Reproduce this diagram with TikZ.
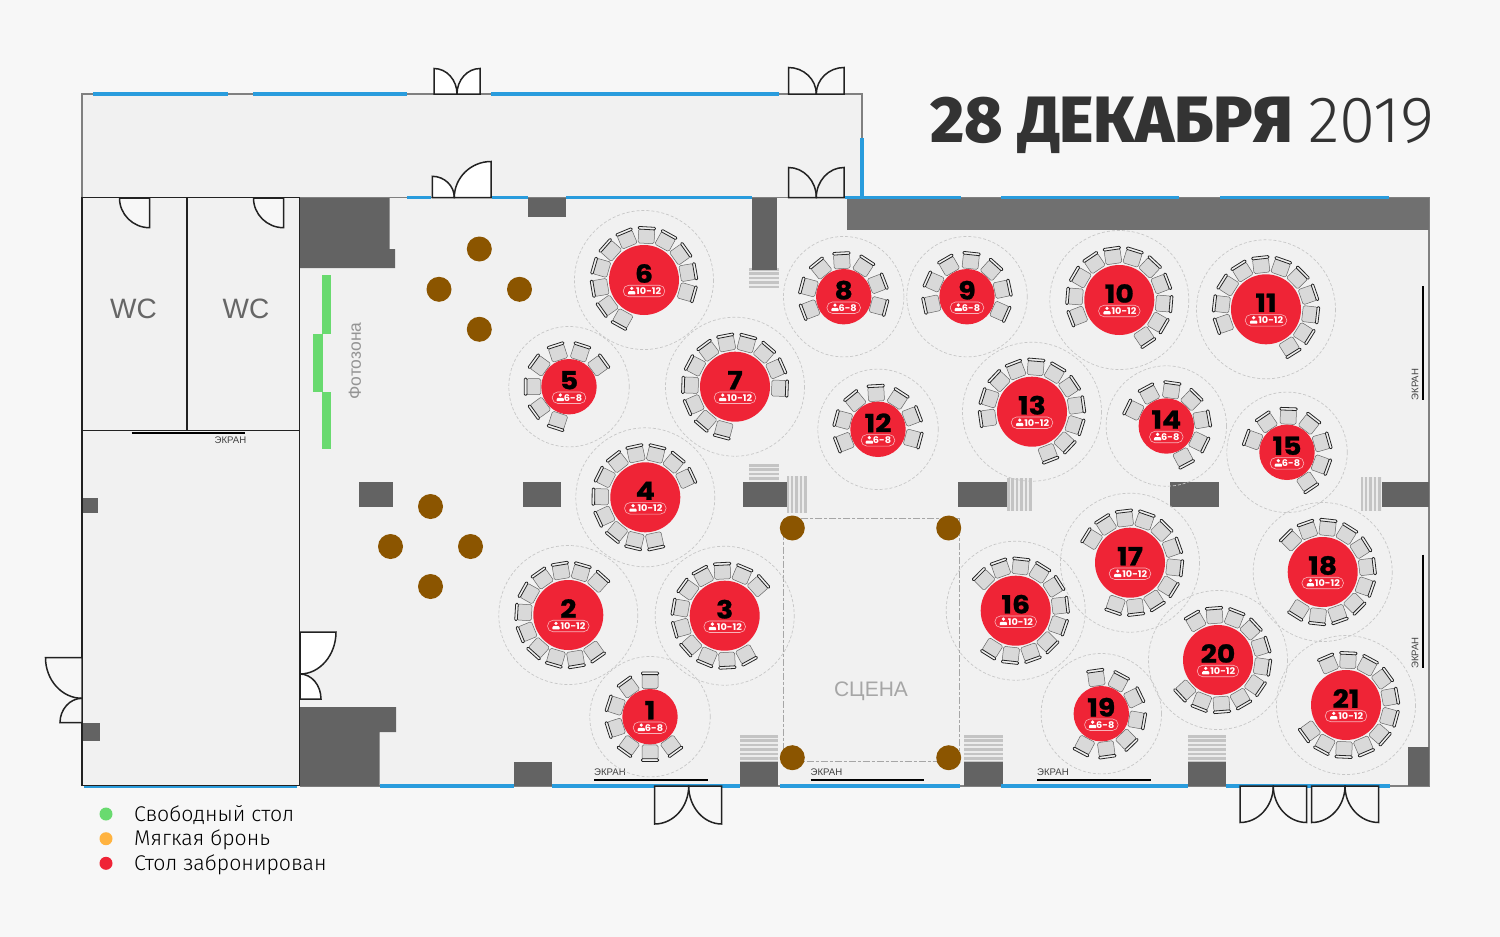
\documentclass[tikz,border=0pt]{standalone}
\usepackage{fontspec}
\setmainfont{Liberation Sans}
\newfontfamily\arialf{Liberation Sans}
\newfontfamily\numf[FakeBold=1,FakeStretch=1.13]{Poppins Bold}
\newfontfamily\badgef[FakeStretch=1.06]{Poppins Bold}
\newfontfamily\titleB{Fira Sans ExtraBold}
\newfontfamily\titleL{Fira Sans Light}
\newfontfamily\legf{Fira Sans Light}
\definecolor{pagebg}{HTML}{F7F7F7}
\definecolor{floorc}{HTML}{F1F1F1}
\definecolor{pier}{HTML}{636363}
\definecolor{band}{HTML}{707070}
\definecolor{glass}{HTML}{299CDD}
\definecolor{wallg}{HTML}{808080}
\definecolor{wallk}{HTML}{222222}
\definecolor{tablered}{HTML}{EF2436}
\definecolor{freeg}{HTML}{69DA6F}
\definecolor{softo}{HTML}{FFB340}
\definecolor{brownc}{HTML}{8B5500}
\definecolor{stairL}{HTML}{ECECEC}
\definecolor{stairD}{HTML}{C4C4C4}
\tikzset{
  x=1pt,y=-1pt,
  pierbox/.style={fill=pier,draw=none},
  win/.style={draw=glass,line width=3.6pt},
  wallgray/.style={draw=wallg,line width=1.4pt},
  wallblack/.style={draw=wallk,line width=1.7pt,line cap=rect},
  leafst/.style={draw=wallk,line width=1.5pt,line join=miter},
  column/.style={fill=brownc,draw=none},
  zone/.style={fill=freeg,draw=none},
  scr/.style={draw=black,line width=2pt},
  scrtext/.style={font=\fontsize{9.6}{10}\selectfont\arialf,text=black!75,inner sep=0pt},
  guest/.style={draw=black!22,line width=.7pt,dash pattern=on 3pt off 2pt},
  seat/.style={fill=black!15,draw=black!60,line width=.5pt,rounded corners=1.5pt},
  backr/.style={fill=black!6,draw=black!85,line width=.8pt,rounded corners=1pt},
  numt/.style={font=\fontsize{25}{25}\selectfont\numf,text=black,inner sep=0pt},
  badget/.style={font=\fontsize{9.2}{9}\selectfont\badgef,text=white,inner sep=0pt},
  pill/.style={draw=white!65!tablered,line width=.6pt,rounded corners=5.5pt,inner sep=0pt,minimum height=11.5pt},
  leg/.style={font=\fontsize{21.3}{22}\selectfont\legf,text=black,anchor=west,inner sep=0pt},
}
% door leaf: hinge, outer tip, meeting point, fill
\newcommand\leaf[7]{%
  \pgfmathsetmacro\ax{#3+.55*(#5-#1)}\pgfmathsetmacro\ay{#4+.55*(#6-#2)}%
  \pgfmathsetmacro\bx{#5+.55*(#3-#1)}\pgfmathsetmacro\by{#6+.55*(#4-#2)}%
  \filldraw[leafst,fill=#7] (#1,#2) -- (#3,#4) .. controls (\ax,\ay) and (\bx,\by) .. (#5,#6) -- cycle;}
\newcommand\hstairs[4]{%
  \fill[stairL] (#1,#3) rectangle (#2,#4);
  \pgfmathtruncatemacro\nn{(#4-#3)/4.4}%
  \foreach \k in {0,...,\nn}{\pgfmathsetmacro\yy{#3+1.3+\k*4.4}\fill[stairD] (#1,\yy-1.25) rectangle (#2,\yy+1.25);}}
\newcommand\vstairs[4]{%
  \fill[stairL] (#1,#3) rectangle (#2,#4);
  \pgfmathtruncatemacro\nn{(#2-#1)/4.4}%
  \foreach \k in {0,...,\nn}{\pgfmathsetmacro\xx{#1+1.3+\k*4.4}\fill[stairD] (\xx-1.25,#3) rectangle (\xx+1.25,#4);}}
\newcommand\chair[5]{% cx cy ang rad
  \begin{scope}[shift={(#1,#2)},rotate=#3]
    \draw[seat] (#4-8.3,-8) rectangle (#4+6,8);
    \draw[backr] (#4+5.6,-8.6) rectangle (#4+8.2,8.6);
  \end{scope}}
\newcommand\person[2]{%
  \fill[white] (#1,#2-2.6) circle (1.8);
  \fill[white,rounded corners=.8pt] (#1-3.9,#2+3.4) -- (#1-3.3,#2+.2) -- (#1+3.3,#2+.2) -- (#1+3.9,#2+3.4) -- cycle;}
\newcommand\bigtable[4]{%
  \draw[guest] (#2,#3) circle (69.5);
  \foreach \i in {0,...,10}{\pgfmathsetmacro\ang{#4+\i*25.714}\chair{#2}{#3}{\ang}{45}{}}
  \fill[tablered] (#2,#3) circle (35);
  \node[numt] (n#1) at (#2,#3-6.5) {#1};
  \node[pill,minimum width=41.5pt] (p#1) at (#2,#3+11) {};
  \person{#2-12.3}{#3+11}
  \node[badget] (c#1) at (#2+4.7,#3+11) {10-12};}
\newcommand\smalltable[4]{%
  \draw[guest] (#2,#3) circle (60.2);
  \foreach \i in {0,...,6}{\pgfmathsetmacro\ang{#4+\i*36}\chair{#2}{#3}{\ang}{36.5}{}}
  \fill[tablered] (#2,#3) circle (27.7);
  \node[numt] (n#1) at (#2,#3-6.5) {#1};
  \node[pill,minimum width=33.5pt] (p#1) at (#2,#3+11) {};
  \person{#2-8.7}{#3+11}
  \node[badget] (c#1) at (#2+4,#3+11) {6-8};}
\begin{document}
\begin{tikzpicture}
\useasboundingbox (0,0) rectangle (1500,937);
\fill[pagebg] (0,0) rectangle (1500,937);
% floors
\fill[floorc] (82,94) rectangle (862,198);
\fill[floorc] (82,198) rectangle (1429,786);
% stairs
\hstairs{749}{779}{268}{287}
\hstairs{749}{779}{464}{482}
\vstairs{786.5}{806}{476}{513}
\vstairs{1007}{1030}{478}{511}
\vstairs{1360.5}{1381.5}{477}{511}
\hstairs{740}{778}{735}{762}
\hstairs{964}{1003}{735}{762}
\hstairs{1188}{1226}{735}{762}
% outer walls
\draw[wallgray] (82,198) -- (82,94) -- (862,94) -- (862,198);
\draw[wallgray] (300,197.5) -- (847,197.5);
\draw[wallgray] (847,197.5) -- (1429,197.5) -- (1429,786) -- (300,786);
% piers
\fill[pier] (300,198) -- (389.5,198) -- (389.5,249) -- (395,249) -- (395,268) -- (300,268) -- cycle;
\fill[pier] (300,707) -- (396,707) -- (396,732) -- (379.5,732) -- (379.5,786) -- (300,786) -- cycle;
\fill[pier] (528,198) rectangle (566,217);
\fill[pier] (752,198) rectangle (777,270);
\fill[band] (847,198) rectangle (1429,230);
\fill[pier] (359,482) rectangle (393,507);
\fill[pier] (523,482) rectangle (561,507);
\fill[pier] (742.5,482) rectangle (786.5,507);
\fill[pier] (957.5,482) rectangle (1007,507);
\fill[pier] (1169.5,482) rectangle (1219,507);
\fill[pier] (1381.5,482) rectangle (1429,507);
\fill[pier] (514,762) rectangle (552,786);
\fill[pier] (740,762) rectangle (778,786);
\fill[pier] (964,762) rectangle (1002.5,786);
\fill[pier] (1187.5,762) rectangle (1226,786);
\fill[pier] (1407.5,747) rectangle (1429,786);
\fill[pier] (82,498) rectangle (98,513);
\fill[pier] (82,722.5) rectangle (99.5,741);
% windows
\draw[win] (93,94) -- (228,94);
\draw[win] (253,94) -- (407,94);
\draw[win] (491,94) -- (779,94);
\draw[win] (407,197.5) -- (431,197.5);
\draw[win] (492,197.5) -- (528,197.5);
\draw[win] (566,197.5) -- (751.5,197.5);
\draw[win] (845,197.5) -- (961,197.5);
\draw[win] (1001,197.5) -- (1179,197.5);
\draw[win] (1220,197.5) -- (1389,197.5);
\draw[win] (862,138) -- (862,197.5);
\draw[win] (84,786.5) -- (297,786.5);
\draw[win] (380,786) -- (514,786);
\draw[win] (552,786) -- (740,786);
\draw[win] (780,786) -- (960,786);
\draw[win] (1001,786) -- (1187.5,786);
\draw[win] (1226,786) -- (1390,786);
% WC walls
\draw[wallblack] (82,197.5) -- (299.5,197.5) -- (299.5,785.5) -- (82,785.5) -- cycle;
\draw[wallblack] (187,197.5) -- (187,430.5);
\draw[wallblack] (82,430.5) -- (299.5,430.5);
% doors
\leaf{434}{94}{434}{68.5}{457}{94}{white}
\leaf{480}{94}{480}{68.5}{457}{94}{white}
\leaf{788.5}{94}{788.5}{67.5}{816.3}{94}{pagebg}
\leaf{844}{94}{844}{67.5}{816.3}{94}{pagebg}
\leaf{432.3}{197.5}{432.3}{176.3}{454.3}{197.5}{white}
\leaf{491}{197.5}{491}{161.5}{454.3}{197.5}{white}
\leaf{788.5}{197.5}{788.5}{167.5}{816.3}{197.5}{floorc}
\leaf{844}{197.5}{844}{167.5}{816.3}{197.5}{floorc}
\leaf{149.5}{198}{149.5}{227.7}{119.5}{198}{pagebg}
\leaf{283.5}{198}{283.5}{227.7}{253.5}{198}{pagebg}
\leaf{82}{657.7}{45.5}{657.7}{82}{698.3}{pagebg}
\leaf{82}{722.7}{60}{722.7}{82}{698.3}{pagebg}
\leaf{300}{632}{336}{632}{300}{674}{white}
\leaf{300}{699}{321}{699}{300}{674}{white}
\leaf{654.7}{786}{654.7}{824}{688.7}{786}{pagebg}
\leaf{721.7}{786}{721.7}{824}{688.7}{786}{pagebg}
\leaf{1240}{786}{1240}{822.5}{1273.3}{786}{pagebg}
\leaf{1306.7}{786}{1306.7}{822.5}{1273.3}{786}{pagebg}
\leaf{1311.7}{786}{1311.7}{822.5}{1345}{786}{pagebg}
\leaf{1378.7}{786}{1378.7}{822.5}{1345}{786}{pagebg}
% photo zone
\fill[zone] (321.7,275) rectangle (331,333.5);
\fill[zone] (313.3,334) rectangle (322.7,391.7);
\fill[zone] (321.7,391.7) rectangle (331,449.3);
\node[rotate=90,font=\fontsize{17.5}{18}\selectfont\arialf,text=black!42,inner sep=0pt] (foto) at (355,361) {Фотозона};
% labels
\node[font=\fontsize{28}{28}\selectfont\arialf,text=black!60,inner sep=0pt] (wc1) at (133.5,308.5) {WC};
\node[font=\fontsize{28}{28}\selectfont\arialf,text=black!60,inner sep=0pt] (wc2) at (246,308.5) {WC};
% stage
\draw[draw=black!35,line width=1pt,dash pattern=on 7pt off 2pt on 3pt off 2pt] (783.7,518.7) rectangle (959,761.7);
\node[font=\fontsize{21}{21}\selectfont\arialf,text=black!35,inner sep=0pt] (stage) at (871,691) {СЦЕНА};
% columns
\foreach \cx/\cy in {479.3/249,439/289.3,519.5/289.3,479.3/329.3,430.5/506.5,390.5/546.5,470.5/546.5,430.5/586.5,792.3/528,948.7/528,792.3/757.7,948.7/757.7}
  \fill[column] (\cx,\cy) circle (12.5);
% screens
\draw[scr] (131.7,432.7) -- (245,432.7);
\node[scrtext] (s1) at (230.5,440) {ЭКРАН};
\draw[scr] (594,780) -- (707.5,780);
\node[scrtext,anchor=west] (s2) at (594,772) {ЭКРАН};
\draw[scr] (810.5,780) -- (924,780);
\node[scrtext,anchor=west] (s3) at (810.5,772) {ЭКРАН};
\draw[scr] (1037,780) -- (1150.5,780);
\node[scrtext,anchor=west] (s4) at (1037,772) {ЭКРАН};
\draw[scr] (1423,286) -- (1423,400);
\node[scrtext,rotate=90] (s5) at (1415,384.5) {ЭКРАН};
\draw[scr] (1423,554.5) -- (1423,668);
\node[scrtext,rotate=90] (s6) at (1415,653) {ЭКРАН};
% tables
\bigtable{2}{568.3}{615}{48}
\bigtable{3}{724.7}{615.7}{41.5}
\bigtable{4}{645.3}{497.3}{25}
\bigtable{6}{644}{280}{-16}
\bigtable{7}{735}{386.7}{-2}
\bigtable{10}{1119.3}{300}{-56}
\bigtable{11}{1266}{309.3}{-58}
\bigtable{13}{1032}{411.7}{-69}
\bigtable{16}{1015.7}{610.7}{238}
\bigtable{17}{1130}{562.7}{251}
\bigtable{18}{1322.7}{572}{238}
\bigtable{20}{1218}{660}{223}
\bigtable{21}{1346}{705}{216}
\smalltable{1}{650}{716.7}{90}
\smalltable{5}{569}{386.7}{36}
\smalltable{8}{843.7}{296.7}{-15}
\smalltable{9}{967}{296.7}{-24}
\smalltable{12}{878}{429.3}{-15}
\smalltable{14}{1166.3}{426}{-62}
\smalltable{15}{1287}{452.3}{-56}
\smalltable{19}{1101.3}{713.7}{242}
% title
\node[anchor=west,inner sep=0pt,text=black!80,font=\fontsize{65.5}{66}\selectfont] (title) at (930,125.5) {\titleB 28 ДЕКАБРЯ \titleL 2019};
% legend
\fill[freeg] (106,814) circle (6.5);
\fill[softo] (106,838.7) circle (6.5);
\fill[tablered] (106,863.3) circle (6.5);
\node[leg] (l1) at (134,815) {Свободный стол};
\node[leg] (l2) at (134,840) {Мягкая бронь};
\node[leg] (l3) at (134,864.5) {Стол забронирован};
\end{tikzpicture}
\end{document}
